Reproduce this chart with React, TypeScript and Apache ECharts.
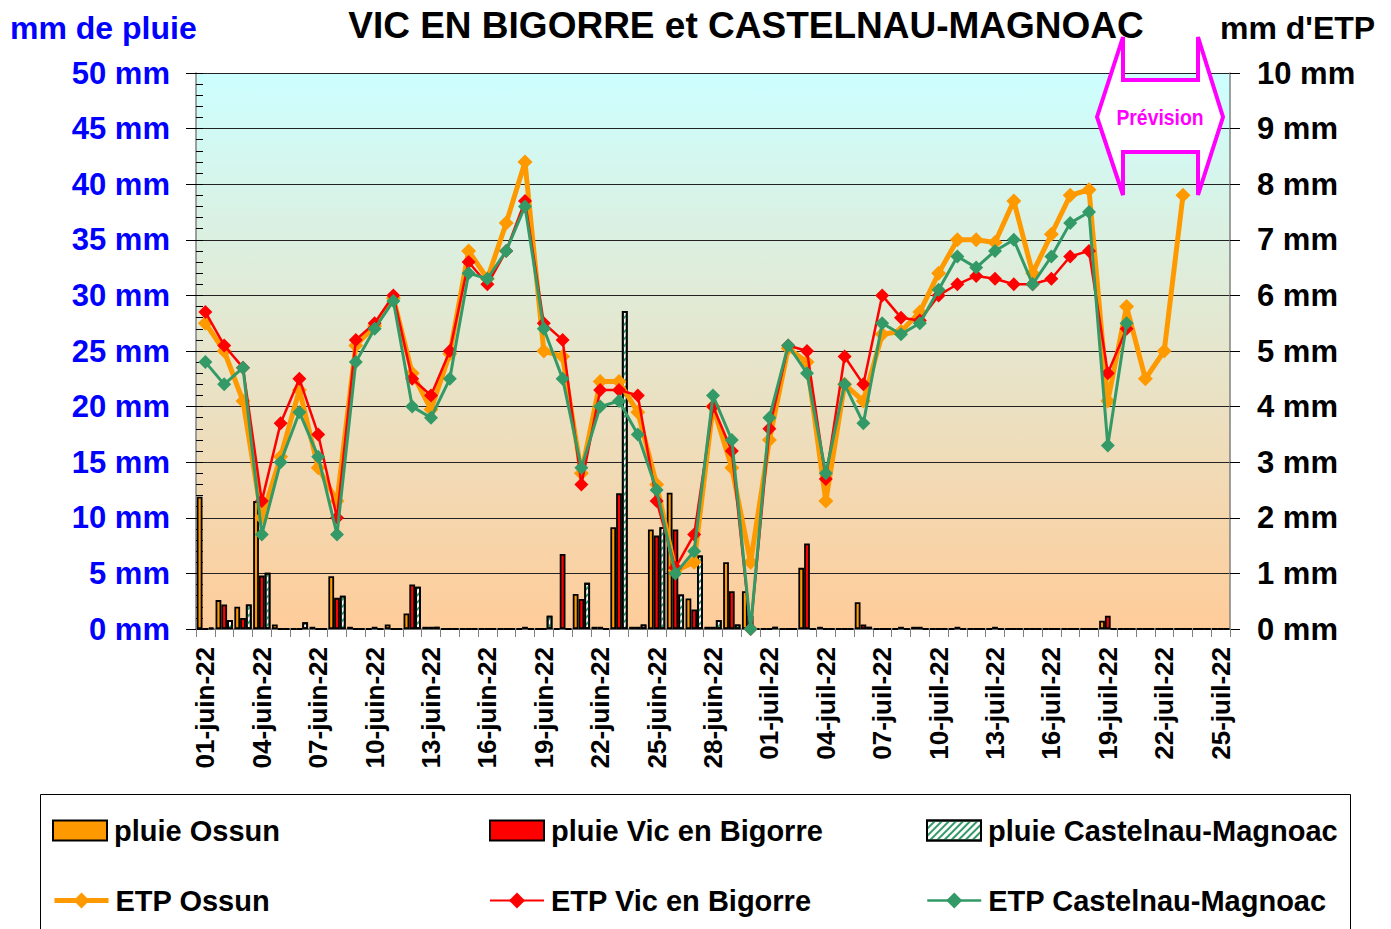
import React, { useEffect, useRef } from "react";
import * as echarts from "echarts";

const categories = [
  "01-juin-22", "02-juin-22", "03-juin-22", "04-juin-22", "05-juin-22", "06-juin-22", "07-juin-22", "08-juin-22", "09-juin-22", "10-juin-22",
  "11-juin-22", "12-juin-22", "13-juin-22", "14-juin-22", "15-juin-22", "16-juin-22", "17-juin-22", "18-juin-22", "19-juin-22", "20-juin-22",
  "21-juin-22", "22-juin-22", "23-juin-22", "24-juin-22", "25-juin-22", "26-juin-22", "27-juin-22", "28-juin-22", "29-juin-22", "30-juin-22",
  "01-juil-22", "02-juil-22", "03-juil-22", "04-juil-22", "05-juil-22", "06-juil-22", "07-juil-22", "08-juil-22", "09-juil-22", "10-juil-22",
  "11-juil-22", "12-juil-22", "13-juil-22", "14-juil-22", "15-juil-22", "16-juil-22", "17-juil-22", "18-juil-22", "19-juil-22", "20-juil-22",
  "21-juil-22", "22-juil-22", "23-juil-22", "24-juil-22", "25-juil-22",
];

const pluieOssun = [
  11.9, 2.6, 2.0, 11.5, 0.4, 0, 0.2, 4.75, 0.2, 0,
  0.4, 1.4, 0.2, 0, 0, 0, 0, 0, 0, 0,
  3.15, 0.2, 9.15, 0.2, 8.95, 12.25, 2.75, 0.2, 6.0, 3.4,
  0, 0, 5.5, 0.2, 0, 2.4, 0, 0, 0.2, 0,
  0, 0, 0, 0, 0, 0, 0, 0, 0.75, 0,
  0, 0, 0, 0, 0,
];
const pluieVic = [
  0, 2.2, 1.0, 4.8, 0, 0, 0, 2.8, 0, 0.2,
  0, 4.0, 0.2, 0, 0, 0, 0, 0.2, 0, 6.75,
  2.7, 0.2, 12.2, 0.2, 8.4, 8.95, 1.75, 0.2, 3.4, 1.2,
  0, 0, 7.7, 0, 0, 0.4, 0, 0.2, 0.2, 0,
  0.2, 0, 0.2, 0, 0, 0, 0, 0, 1.2, 0,
  0, 0, 0, 0, 0,
];
const pluieCastelnau = [
  0.1, 0.8, 2.2, 5.05, 0, 0.6, 0, 3.0, 0, 0,
  0, 3.8, 0.2, 0, 0, 0, 0, 0, 1.2, 0,
  4.15, 0, 28.6, 0.4, 9.15, 3.1, 6.6, 0.8, 0.4, 0,
  0.2, 0, 0, 0, 0, 0.2, 0, 0, 0, 0,
  0, 0, 0, 0, 0, 0, 0, 0, 0, 0,
  0, 0, 0, 0, 0,
];

const etpOssun = [
  5.5, 5.0, 4.1, 2.0, 3.1, 4.3, 2.9, 2.3, 5.1, 5.45,
  5.95, 4.6, 3.95, 4.95, 6.8, 6.3, 7.3, 8.4, 5.0, 4.9,
  2.8, 4.45, 4.45, 3.9, 2.6, 1.05, 1.2, 4.0, 2.9, 1.2,
  3.4, 5.05, 4.8, 2.3, 4.4, 4.1, 5.3, 5.35, 5.7, 6.4,
  7.0, 7.0, 6.95, 7.7, 6.4, 7.1, 7.8, 7.9, 4.1, 5.8,
  4.5, 5.0, 7.8, null, null,
];
const etpVic = [
  5.7, 5.1, 4.7, 2.3, 3.7, 4.5, 3.5, 2.0, 5.2, 5.5,
  6.0, 4.5, 4.2, 5.0, 6.6, 6.2, 6.8, 7.7, 5.5, 5.2,
  2.6, 4.3, 4.3, 4.2, 2.3, 1.1, 1.7, 4.0, 3.2, 0,
  3.6, 5.1, 5.0, 2.7, 4.9, 4.4, 6.0, 5.6, 5.55, 6.0,
  6.2, 6.35, 6.3, 6.2, 6.2, 6.3, 6.7, 6.8, 4.6, 5.4,
  null, null, null, null, null,
];
const etpCastelnau = [
  4.8, 4.4, 4.7, 1.7, 3.0, 3.9, 3.1, 1.7, 4.8, 5.4,
  5.9, 4.0, 3.8, 4.5, 6.4, 6.3, 6.8, 7.6, 5.4, 4.5,
  2.9, 4.0, 4.1, 3.5, 2.5, 1.0, 1.4, 4.2, 3.4, 0,
  3.8, 5.1, 4.6, 2.8, 4.4, 3.7, 5.5, 5.3, 5.5, 6.1,
  6.7, 6.5, 6.8, 7.0, 6.2, 6.7, 7.3, 7.5, 3.3, 5.5,
  null, null, null, null, null,
];

const FONT = "'Liberation Sans', Arial, sans-serif";
const ORANGE = "#ff9900";
const RED = "#ff0000";
const GREEN = "#339966";

function legendItem(name: string, left: number, top: number, isBar: boolean, lineWidth = 2) {
  return {
    data: [isBar ? { name, icon: "rect" } : { name }],
    left,
    top,
    padding: 0,
    itemWidth: 54,
    itemHeight: 20,
    itemGap: 0,
    selectedMode: false,
    ...(isBar ? {} : { lineStyle: { width: lineWidth } }),
    textStyle: { fontSize: 29, fontWeight: "bold", color: "#000", fontFamily: FONT, padding: [0, 0, 0, 2] },
  };
}

export default function App() {
  const ref = useRef<HTMLDivElement>(null);
  useEffect(() => {
    if (!ref.current) return;
    const chart = echarts.init(ref.current, null, { renderer: "svg" });
    const barBase = { type: "bar", yAxisIndex: 0, barGap: "0%", barCategoryGap: "8%" };
    chart.setOption({
      animation: false,
      backgroundColor: "#ffffff",
      grid: {
        left: 196, right: 161, top: 73, bottom: 300, show: true, borderWidth: 0,
        backgroundColor: {
          type: "linear", x: 0, y: 0, x2: 0, y2: 1,
          colorStops: [
            { offset: 0, color: "#ccffff" },
            { offset: 1, color: "#ffcc99" },
          ],
        },
      },
      legend: [
        legendItem("pluie Ossun", 52, 816, true),
        legendItem("pluie Vic en Bigorre", 489, 816, true),
        legendItem("pluie Castelnau-Magnoac", 926, 816, true),
        legendItem("ETP Ossun", 52, 886, false, 5),
        legendItem("ETP Vic en Bigorre", 489, 886, false, 2),
        legendItem("ETP Castelnau-Magnoac", 926, 886, false, 2.5),
      ],
      xAxis: {
        type: "category",
        data: categories,
        boundaryGap: true,
        axisLine: { lineStyle: { color: "#808080", width: 1.5 } },
        axisTick: { show: true, interval: 0, length: 8, alignWithLabel: false, lineStyle: { color: "#808080" } },
        axisLabel: {
          interval: 2, rotate: 90, margin: 18,
          fontSize: 26, fontWeight: "bold", color: "#000", fontFamily: FONT,
        },
        splitLine: { show: false },
      },
      yAxis: [
        {
          type: "value", min: 0, max: 50, interval: 5, position: "left",
          axisLine: { show: true, lineStyle: { color: "#808080", width: 1.5 } },
          axisTick: { show: true, length: 10, lineStyle: { color: "#000" } },
          axisLabel: {
            formatter: "{value} mm", margin: 26,
            fontSize: 31, fontWeight: "bold", color: "#0000ff", fontFamily: FONT,
          },
          splitLine: { show: true, lineStyle: { color: "#222", width: 1 } },
        },
        {
          type: "value", min: 0, max: 10, interval: 1, position: "right",
          axisLine: { show: true, lineStyle: { color: "#808080", width: 1.5 } },
          axisTick: { show: true, length: 10, lineStyle: { color: "#000" } },
          axisLabel: {
            formatter: "{value} mm", margin: 27,
            fontSize: 31, fontWeight: "bold", color: "#000", fontFamily: FONT,
          },
          splitLine: { show: false },
        },
        {
          type: "value", min: 0, max: 50, interval: 1, position: "left",
          axisLine: { show: false },
          axisTick: { show: true, inside: true, length: 7, lineStyle: { color: "#000" } },
          axisLabel: { show: false },
          splitLine: { show: false },
        },
      ],
      series: [
        {
          ...barBase, name: "pluie Ossun", data: pluieOssun,
          itemStyle: { color: ORANGE, borderColor: "#000", borderWidth: 1.8 },
        },
        {
          ...barBase, name: "pluie Vic en Bigorre", data: pluieVic,
          itemStyle: { color: RED, borderColor: "#000", borderWidth: 1.8 },
        },
        {
          ...barBase, name: "pluie Castelnau-Magnoac", data: pluieCastelnau,
          itemStyle: {
            color: "#ffffff", borderColor: "#000", borderWidth: 1.8,
            decal: {
              symbol: "rect", symbolSize: 1, color: GREEN,
              dashArrayX: [1, 0], dashArrayY: [2, 3], rotation: -Math.PI / 4,
            },
          },
        },
        {
          type: "line", name: "ETP Ossun", yAxisIndex: 1, data: etpOssun,
          symbol: "diamond", symbolSize: 15, showAllSymbol: true,
          lineStyle: { color: ORANGE, width: 5 }, itemStyle: { color: ORANGE }, z: 3,
        },
        {
          type: "line", name: "ETP Vic en Bigorre", yAxisIndex: 1, data: etpVic,
          symbol: "diamond", symbolSize: 14, showAllSymbol: true,
          lineStyle: { color: RED, width: 2.5 }, itemStyle: { color: RED }, z: 4,
        },
        {
          type: "line", name: "ETP Castelnau-Magnoac", yAxisIndex: 1, data: etpCastelnau,
          symbol: "diamond", symbolSize: 14, showAllSymbol: true,
          lineStyle: { color: GREEN, width: 3 }, itemStyle: { color: GREEN }, z: 5,
        },
      ],
      graphic: [
        {
          type: "text", x: 746, y: 25, z: 10,
          style: {
            text: "VIC EN BIGORRE et CASTELNAU-MAGNOAC", fill: "#000",
            font: `bold 37px ${FONT}`, textAlign: "center", textVerticalAlign: "middle",
          },
        },
        {
          type: "text", x: 10, y: 28, z: 10,
          style: {
            text: "mm de pluie", fill: "#0000ff",
            font: `bold 32px ${FONT}`, textAlign: "left", textVerticalAlign: "middle",
          },
        },
        {
          type: "text", x: 1220, y: 28, z: 10,
          style: {
            text: "mm d'ETP", fill: "#000",
            font: `bold 32px ${FONT}`, textAlign: "left", textVerticalAlign: "middle",
          },
        },
        {
          type: "polygon", z: 20,
          shape: {
            points: [
              [1123, 37], [1123, 80], [1198, 80], [1198, 37], [1223, 117],
              [1198, 195], [1198, 152], [1123, 152], [1123, 195], [1097, 117],
            ],
          },
          style: { fill: "#ffffff", stroke: "#ff00ff", lineWidth: 4 },
        },
        {
          type: "text", x: 1160, y: 117, z: 21, scaleX: 0.88,
          style: {
            text: "Prévision", fill: "#ff00ff",
            font: `bold 22px ${FONT}`,
            textAlign: "center", textVerticalAlign: "middle",
          },
        },
        {
          type: "rect", z: 1,
          shape: { x: 40.5, y: 794.5, width: 1310, height: 200 },
          style: { fill: "none", stroke: "#000", lineWidth: 1 },
        },
      ],
    });
    return () => chart.dispose();
  }, []);
  return <div ref={ref} style={{ width: 1391, height: 929, marginLeft: -8, marginTop: -8 }} />;
}
